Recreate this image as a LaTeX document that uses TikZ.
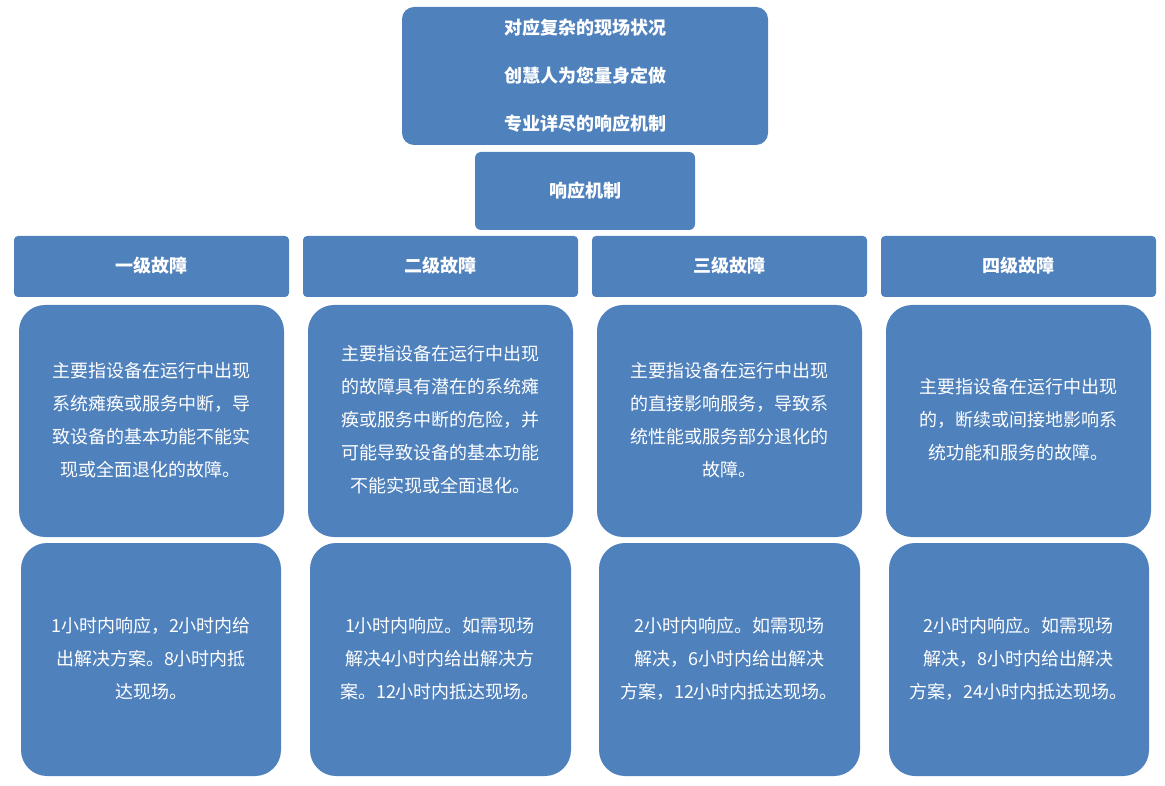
\documentclass[tikz,border=0pt]{standalone}
\usepackage{fontspec}
\newfontfamily\cjk{Noto Sans CJK SC}
\definecolor{boxblue}{HTML}{4F81BD}
\begin{document}
\begin{tikzpicture}[x=1pt,y=-1pt,
  bx/.style={fill=boxblue,draw=none,text=white,font=\cjk\fontsize{18}{33}\selectfont,align=center,inner sep=0pt},
  tb/.style={bx,font=\cjk\bfseries\fontsize{18}{48}\selectfont}]
\useasboundingbox[fill=white] (0,0) rectangle (1165,786);
\fill[boxblue,rounded corners=12] (402,7) rectangle (768,145);
\node[tb,fill=none] (top) at (585,76) {对应复杂的现场状况\\创慧人为您量身定做\\专业详尽的响应机制};
\fill[boxblue,rounded corners=6] (475,152) rectangle (695,230);
\node[tb,fill=none] (mech) at (585,191) {响应机制};
\foreach \xa/\xb/\t [count=\i] in {14/289/一级故障,303/578/二级故障,592/867/三级故障,881/1156/四级故障}{
  \fill[boxblue,rounded corners=4] (\xa,236) rectangle (\xb,297);
  \node[tb,fill=none] (h\i) at ({(\xa+\xb)/2},266) {\t};
}
\foreach \xa/\xb [count=\i] in {19/284,308/573,597/862,886/1151}{
  \fill[boxblue,rounded corners=26] (\xa,305) rectangle (\xb,537);
}
\foreach \xa/\xb [count=\i] in {21/281,310/571,599/860,889/1149}{
  \fill[boxblue,rounded corners=26] (\xa,543) rectangle (\xb,776);
}
\node[bx,fill=none] (d1) at (151,420) {主要指设备在运行中出现\\系统瘫痪或服务中断，导\\致设备的基本功能不能实\\现或全面退化的故障。};
\node[bx,fill=none] (d2) at (440,420) {主要指设备在运行中出现\\的故障具有潜在的系统瘫\\痪或服务中断的危险，并\\可能导致设备的基本功能\\不能实现或全面退化。};
\node[bx,fill=none] (d3) at (729,420) {主要指设备在运行中出现\\的直接影响服务，导致系\\统性能或服务部分退化的\\故障。};
\node[bx,fill=none] (d4) at (1018,420) {主要指设备在运行中出现\\的，断续或间接地影响系\\统功能和服务的故障。};
\node[bx,fill=none] (r1) at (151,659) {1小时内响应，2小时内给\\出解决方案。8小时内抵\\达现场。};
\node[bx,fill=none] (r2) at (440,659) {1小时内响应。如需现场\\解决4小时内给出解决方\\案。12小时内抵达现场。};
\node[bx,fill=none] (r3) at (729,659) {2小时内响应。如需现场\\解决，6小时内给出解决\\方案，12小时内抵达现场。};
\node[bx,fill=none] (r4) at (1018,659) {2小时内响应。如需现场\\解决，8小时内给出解决\\方案，24小时内抵达现场。};
\end{tikzpicture}
\end{document}
